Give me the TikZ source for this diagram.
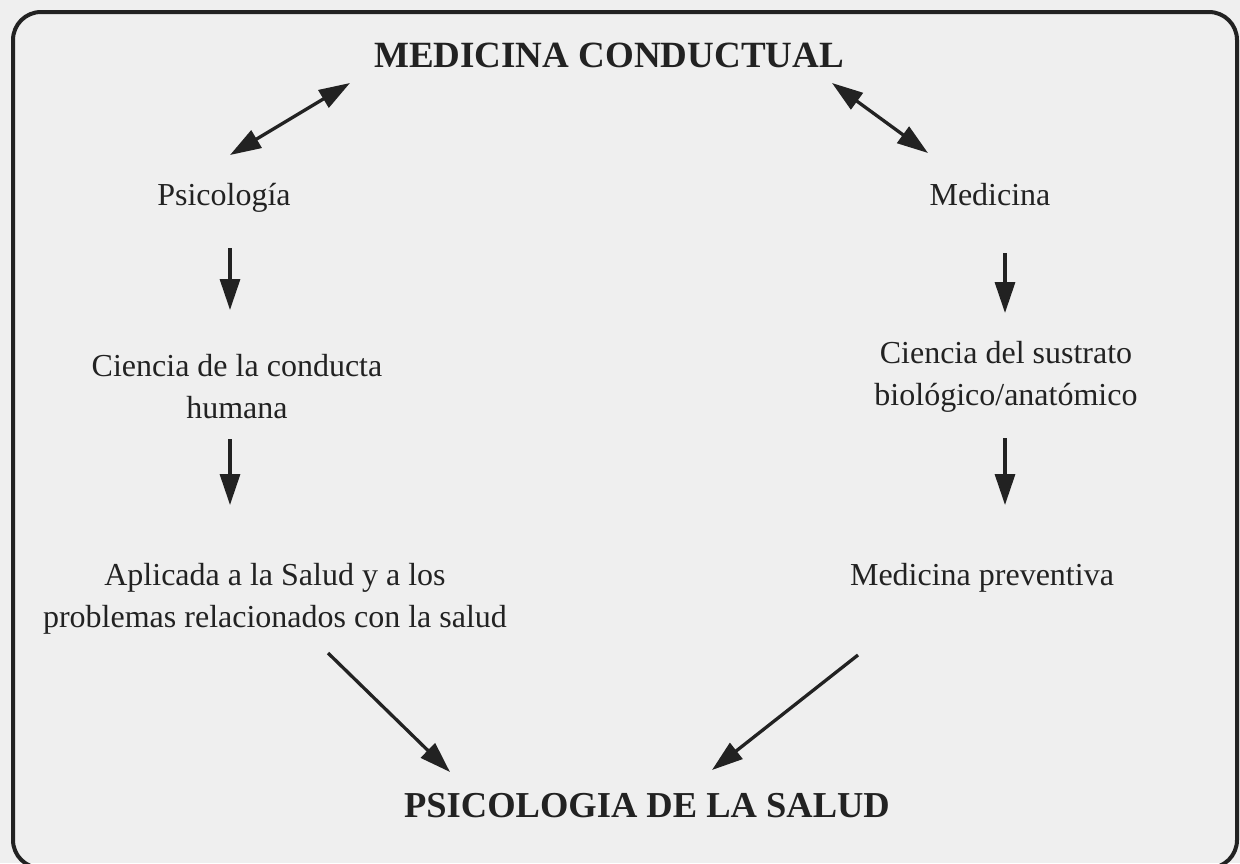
\documentclass[tikz,border=0pt]{standalone}
\usepackage{fontspec}
\setmainfont{Liberation Serif}
\usetikzlibrary{arrows.meta}
\definecolor{bg}{HTML}{EFEFEF}
\definecolor{ink}{HTML}{222222}
\begin{document}
\begin{tikzpicture}[x=1pt,y=-1pt,
  lbl/.style={font=\fontsize{32}{42}\selectfont, text=ink, align=center, inner sep=0pt, anchor=base},
  ttl/.style={font=\fontsize{37}{44}\selectfont\bfseries, text=ink, inner sep=0pt, anchor=base},
  sub/.style={font=\fontsize{36.5}{40}\selectfont\bfseries, text=ink, inner sep=0pt, anchor=base},
  tip/.tip={Triangle[length=31pt,width=20pt]},
  arr/.style={line width=3.3pt, draw=ink, -tip},
  darr/.style={line width=3.3pt, draw=ink, tip-tip}]
\useasboundingbox (0,0) rectangle (1240,863);
\fill[bg] (0,0) rectangle (1240,863);
\draw[ink, line width=4pt, rounded corners=28pt] (13,12) rectangle (1237,868);

\node[ttl] (mc) at (609,67) {MEDICINA CONDUCTUAL};
\node[lbl] (psi) at (224,205) {Psicología};
\node[lbl] (med) at (990,205) {Medicina};
\node[lbl] (cch) at (237,418) {Ciencia de la conducta\\humana};
\node[lbl] (csb) at (1006,405) {Ciencia del sustrato\\biológico/anatómico};
\node[lbl] (apl) at (275,627) {Aplicada a la Salud y a los\\problemas relacionados con la salud};
\node[lbl] (mpv) at (982,585) {Medicina preventiva};
\node[sub] (pds) at (647,817) {PSICOLOGIA DE LA SALUD};

\coordinate (a1) at (230,155);
\coordinate (a2) at (350,83);
\coordinate (b1) at (832,83);
\coordinate (b2) at (928,153);
\draw[darr] (a1) -- (a2);
\draw[darr] (b1) -- (b2);

\draw[arr] (230,248) -- (230,310);
\draw[arr] (230,439) -- (230,505);
\draw[arr] (1005,253) -- (1005,313);
\draw[arr] (1005,438) -- (1005,505);
\draw[arr] (328,653) -- (450,772);
\draw[arr] (858,655) -- (712,770);
\end{tikzpicture}
\end{document}
